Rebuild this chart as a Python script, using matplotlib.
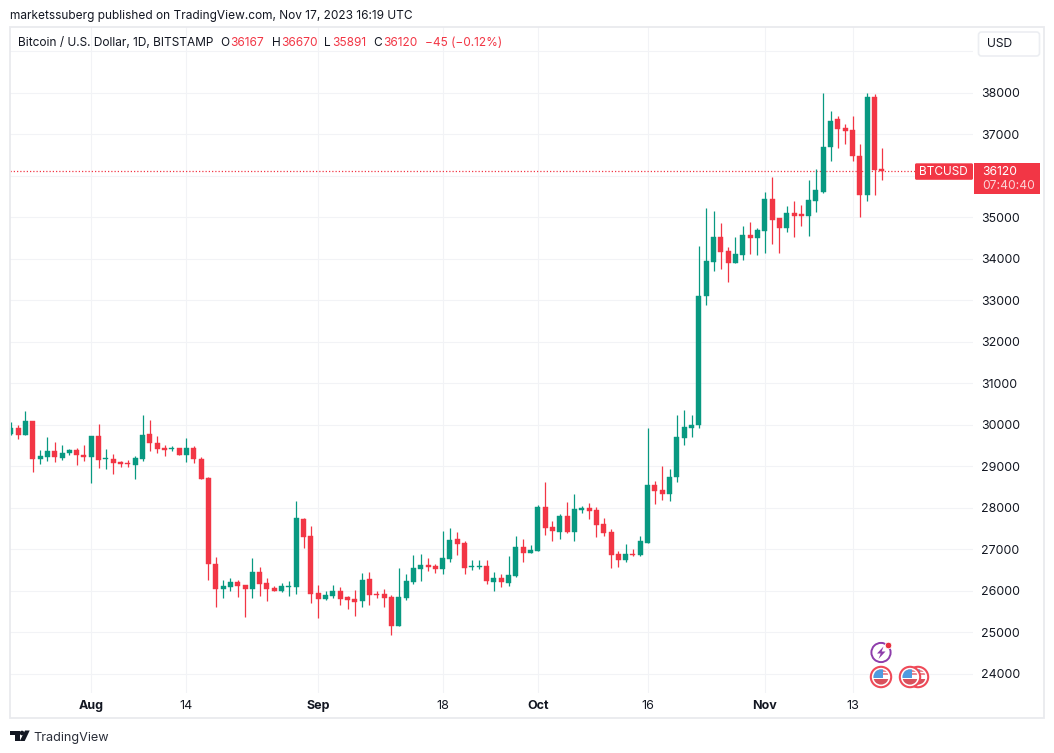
import numpy as np
import pandas as pd
import matplotlib
matplotlib.use("Agg")
import matplotlib.pyplot as plt
from matplotlib.patches import Rectangle, FancyBboxPatch, Circle, Polygon

# daily candles, 21 Jul 2023 to 17 Nov 2023
dates = pd.date_range("2023-07-21", "2023-11-17")

opens = [29783, 29904, 29759, 30096, 29165, 29213, 29350, 29189, 29310, 29374, 29277,
         29213, 29711, 29165, 29173, 29085, 29068, 29020, 29165, 29783, 29566, 29422, 29406, 29422, 29261, 29422, 29173,
         28700, 26627, 26025, 26081, 26194, 26122, 26025, 26442, 26177, 26057, 25993, 26089, 26089, 27719, 27309,
         25936, 25800, 25864, 25984, 25848, 25792, 25744, 26274, 25920, 25912, 25840, 25149, 25816, 26201, 26515,
         26611, 26587, 26515, 26755, 27237, 27141, 26563, 26563, 26587, 26201, 26298, 26177, 26345, 27055, 26912,
         26960, 28013, 27534, 27414, 27797, 27414, 27941, 27989, 27941, 27606, 27414, 26888, 26744, 26888, 26864,
         27151, 28540, 28420, 28324, 28731, 29665, 29904, 29976, 33090, 33915, 34508, 34171, 33883, 34075, 34556, 34484,
         34652, 35445, 34964, 34724, 35108, 35060, 35036, 35397, 35613, 36694, 37367, 37151, 37103, 36478, 35541, 37896, 36167]
closes = [29904, 29759, 30096, 29165, 29229, 29350, 29213, 29317, 29374, 29261, 29205,
          29711, 29141, 29181, 29068, 29044, 29044, 29181, 29759, 29550, 29406, 29382, 29422, 29261, 29422, 29165, 28675,
          26635, 26033, 26098, 26194, 26098, 26025, 26435, 26161, 26041, 25993, 26105, 26105, 27743, 27293, 25920,
          25800, 25888, 25984, 25792, 25768, 25720, 26250, 25888, 25896, 25816, 25149, 25840, 26225, 26539, 26611,
          26563, 26515, 26780, 27213, 27117, 26539, 26587, 26587, 26225, 26298, 26201, 26370, 27044, 26912, 26984,
          28013, 27510, 27438, 27797, 27414, 27965, 27989, 27917, 27582, 27390, 26864, 26744, 26888, 26864, 27199,
          28540, 28396, 28324, 28731, 29689, 29928, 30000, 33090, 33931, 34508, 34147, 33883, 34099, 34556, 34484, 34676,
          35445, 34916, 34724, 35108, 35036, 35036, 35421, 35661, 36694, 37319, 37127, 37079, 36478, 35541, 37896, 36142, 36120]
highs = [30056, 30000, 30337, 30096, 29374, 29695, 29574, 29518, 29398, 29438, 29518,
         29711, 30024, 29398, 29293, 29117, 29149, 29253, 30217, 30120, 29711, 29510, 29478, 29438, 29663, 29470, 29221,
         28739, 26812, 26265, 26290, 26242, 26138, 26788, 26555, 26298, 26097, 26177, 26217, 28153, 27759, 27550,
         26121, 25984, 26121, 26073, 25864, 26009, 26418, 26442, 25984, 26033, 25888, 26539, 26394, 26852, 26876,
         26780, 26627, 27430, 27494, 27406, 27189, 26731, 26731, 26731, 26442, 26394, 26827, 27309, 27247, 27103,
         28061, 28611, 27678, 27845, 28133, 28324, 28037, 28109, 28013, 27750, 27486, 26960, 27127, 27008, 27319,
         29904, 28635, 28995, 28923, 30239, 30359, 30239, 34291, 35205, 35156, 34844, 34267, 34508, 34772, 34868, 34740,
         35613, 35973, 34964, 35277, 35397, 35301, 35901, 36166, 38000, 37559, 37439, 37247, 37439, 36766, 37984, 37968, 36670]
lows = [29743, 29639, 29743, 28844, 29060, 29117, 29093, 29141, 29261, 29036, 29117,
        28579, 28940, 28916, 28796, 28964, 28964, 28675, 29109, 29358, 29310, 29237, 29358, 29261, 29093, 29068, 28675,
        26265, 25600, 25808, 25985, 25832, 25350, 25808, 25872, 25752, 25993, 25968, 25864, 25920, 27020, 25703,
        25342, 25776, 25824, 25647, 25559, 25382, 25599, 25647, 25816, 25599, 24925, 25141, 25776, 26161, 26233,
        26474, 26426, 26402, 26691, 26852, 26394, 26490, 26515, 26153, 25984, 26081, 26105, 26317, 26696, 26912,
        26960, 27343, 27199, 27247, 27390, 27199, 27869, 27726, 27295, 27319, 26553, 26577, 26696, 26824, 26840,
        27151, 28085, 28181, 28157, 28612, 29497, 29689, 29920, 32874, 33691, 33739, 33426, 33883, 33955, 34099, 34075,
        34123, 34340, 34139, 34628, 34508, 34772, 34532, 35132, 35589, 36358, 36670, 36766, 36358, 35012, 35397, 35541, 35891]

price_ticks = [24000, 25000, 26000, 27000, 28000, 29000, 30000, 31000, 32000, 33000, 34000,
               35000, 36000, 37000, 38000, 39000]
# these two sit behind the USD button and the last price label
hidden_ticks = [36000, 39000]
time_ticks = ["2023-08-01", "2023-08-14", "2023-09-01", "2023-09-18", "2023-10-01", "2023-10-16",
              "2023-11-01", "2023-11-13"]
time_labels = ["Aug", "14", "Sep", "18", "Oct", "16", "Nov", "13"]

GREEN = "#089981"
RED = "#f23645"
GRID = "#f2f3f6"
TEXT = "#131722"
W, H = 1054, 753

plt.rcParams["font.family"] = ["Inter", "DejaVu Sans"]

fig = plt.figure(figsize=(W / 100, H / 100), dpi=100, facecolor="white")


def px_box(left, top, right, bottom):
    return [left / W, 1 - bottom / H, (right - left) / W, (bottom - top) / H]


# price chart, placed so 1 Aug sits at px 91.3 and 38000 at py 92.5
px_per_day = 7.32
px_per_usd = 0.0415
left, right, top, bottom = 10, 973, 27, 693
ax = fig.add_axes(px_box(left, top, right, bottom))
ax.set_xlim((left - 91.3) / px_per_day, (right - 91.3) / px_per_day)
ax.set_ylim(38000 - (bottom - 92.5) / px_per_usd, 38000 - (top - 92.5) / px_per_usd)
for s in ax.spines.values():
    s.set_visible(False)

origin = pd.Timestamp("2023-08-01")
days = np.array((dates - origin).days)
o, h, l, c = map(np.array, (opens, highs, lows, closes))
colors = [GREEN if cl >= op else RED for op, cl in zip(o, c)]

ax.set_axisbelow(True)
ax.grid(True, color=GRID, lw=0.8)
ax.vlines(days, l, h, colors=colors, lw=0.9, zorder=3)
ax.bar(days, np.maximum(np.abs(c - o), 25), bottom=np.minimum(o, c), width=0.68, color=colors,
       edgecolor=colors, lw=0.3, zorder=4)
ax.axhline(closes[-1], color=RED, lw=0.9, ls=(0, (1, 1.6)), zorder=2)

ax.yaxis.tick_right()
ax.set_yticks(price_ticks)
ax.set_yticklabels(["" if p in hidden_ticks else str(p) for p in price_ticks], fontsize=8.9, color=TEXT)
ax.tick_params(axis="y", length=0, pad=6)
ax.set_xticks([(pd.Timestamp(t) - origin).days for t in time_ticks])
ax.set_xticklabels(time_labels, fontsize=9, color=TEXT)
for lab, txt in zip(ax.get_xticklabels(), time_labels):
    if txt.isalpha():
        lab.set_fontweight("bold")
ax.tick_params(axis="x", length=0, pad=5)

# overlay in pixel coordinates for the frame, header and widgets
ov = fig.add_axes([0, 0, 1, 1], zorder=5)
ov.set_xlim(0, W)
ov.set_ylim(H, 0)
ov.axis("off")
ov.patch.set_alpha(0)

ov.add_patch(Rectangle((10, 27), 1034, 691, fill=False, ec="#e9eaee", lw=1.3))
ov.text(10, 15.5, "marketssuberg published on TradingView.com, Nov 17, 2023 16:19 UTC",
        fontsize=8.55, color=TEXT, va="center")

# OHLC legend
ov.text(18, 43, "Bitcoin / U.S. Dollar, 1D, BITSTAMP", fontsize=8.55, color=TEXT, va="center")
legend_parts = [(220, "O", TEXT), (230, str(opens[-1]), RED), (272, "H", TEXT), (281, str(highs[-1]), RED),
                (324, "L", TEXT), (332, str(lows[-1]), RED), (373, "C", TEXT), (383, str(closes[-1]), RED),
                (425, "\u221245 (\u22120.12%)", RED)]
for x, txt, col in legend_parts:
    ov.text(x, 43, txt, fontsize=8.55, color=col, va="center")

# currency button
ov.add_patch(FancyBboxPatch((978.5, 32), 61, 24, boxstyle="round,pad=0,rounding_size=3", fc="white", ec="#eceef2", lw=1.2))
ov.text(987, 43.5, "USD", fontsize=8.7, color=TEXT, va="center")

# last price labels
ov.add_patch(FancyBboxPatch((915, 163.3), 58, 16.5, boxstyle="round,pad=0,rounding_size=1.5", fc=RED, ec="none"))
ov.add_patch(Rectangle((974, 163.3), 66, 30.4, fc=RED, ec="none"))
ov.text(919, 172, "BTCUSD", fontsize=8.5, color="white", va="center")
ov.text(982, 171.5, str(closes[-1]), fontsize=8.7, color="white", va="center")
ov.text(982, 185.5, "07:40:40", fontsize=8.7, color="#fcd3d7", va="center")


def flag(x, y):
    ring = Circle((x, y), 10.2, fc="white", ec="#ef4a58", lw=1.5)
    ov.add_patch(ring)
    disc = Circle((x, y), 7.6, fc="white", ec="none")
    ov.add_patch(disc)
    for rect in [Rectangle((x - 8, y - 8), 16, 2.6, fc="#e98a92", ec="none"),
                 Rectangle((x, y - 4.4), 8, 2.2, fc="#e98a92", ec="none"),
                 Rectangle((x - 8, y + 2.2), 16, 6, fc="#d9505c", ec="none"),
                 Rectangle((x - 8, y - 8), 10, 8.5, fc="#4f9be0", ec="none")]:
        ov.add_patch(rect)
        rect.set_clip_path(disc)


# event markers
ov.add_patch(Circle((881, 652.5), 9.6, fc="white", ec="#8e3dab", lw=1.4))
ov.add_patch(Polygon([(883.5, 646.5), (877, 653.5), (880.7, 653.5), (878.5, 659), (885.5, 651.5), (881.7, 651.5)],
                     fc="#8e3dab", ec="none"))
ov.add_patch(Circle((888.5, 645.5), 3.3, fc="#e8323f", ec="white", lw=0.6))
flag(918, 677)
flag(910, 677)
flag(881, 677)

# TradingView logo
logo = "#131722"
ov.add_patch(Polygon([(10, 730.5), (19.5, 730.5), (19.5, 741), (14.5, 741), (14.5, 735), (10, 735)], fc=logo, ec="none"))
ov.add_patch(Circle((22, 733), 2.3, fc=logo, ec="none"))
ov.add_patch(Polygon([(25, 730.5), (29.7, 730.5), (24.7, 741), (19.8, 741)], fc=logo, ec="none"))
ov.text(33, 737.5, "TradingView", fontsize=9.1, color="#2a2e39", va="center")

fig.savefig("out.png", dpi=100)
